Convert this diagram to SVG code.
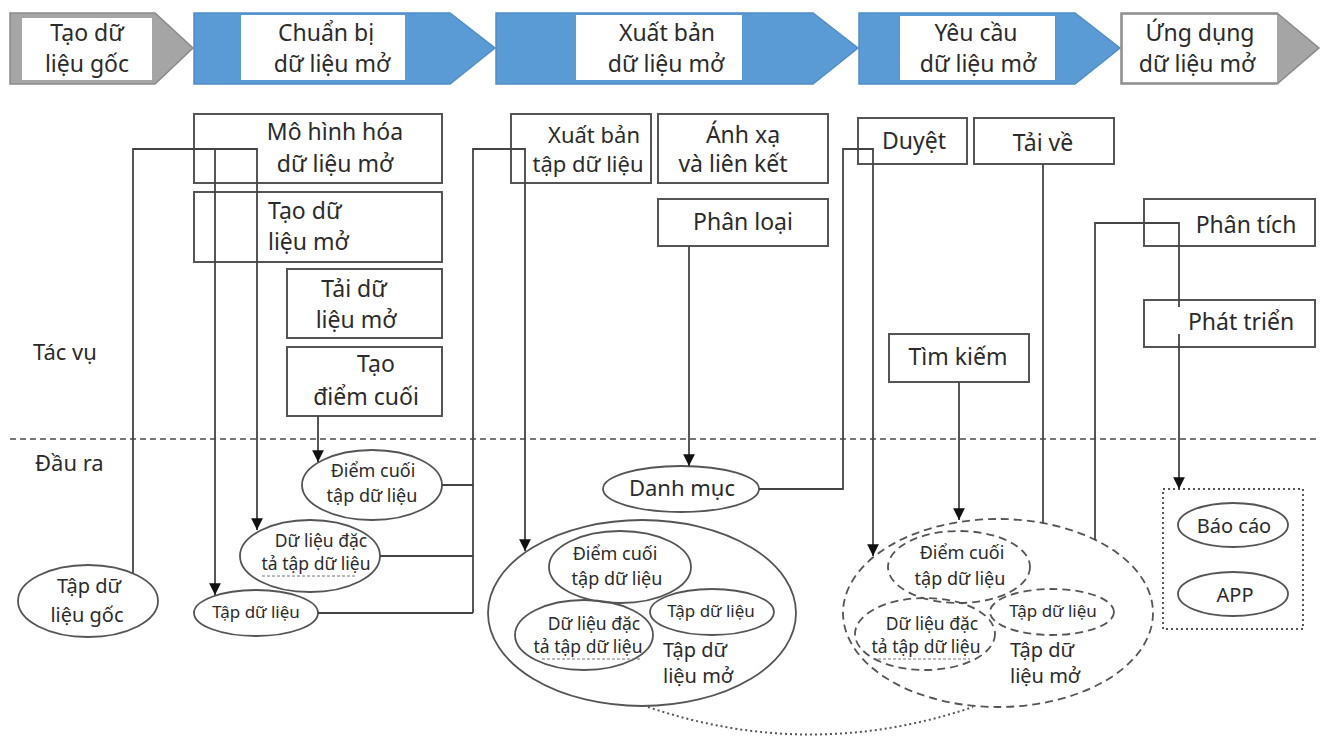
<svg xmlns="http://www.w3.org/2000/svg" width="1322" height="738" viewBox="0 0 1322 738">
<style>
text{font-family:"Noto Sans","Open Sans","DejaVu Sans",sans-serif;fill:#2b2b2b}
.h{font-size:23px;text-anchor:middle}
.b{font-size:23px;text-anchor:middle}
.s{font-size:18px;text-anchor:middle}
.box{fill:none;stroke:#555;stroke-width:2}
.ell{fill:#fff;stroke:#555;stroke-width:1.8}
.ein{fill:none;stroke:#555;stroke-width:1.8}
.dash{fill:none;stroke:#555;stroke-width:1.8;stroke-dasharray:8 5}
.gray{fill:#a5a5a5;stroke:#8a8a8a;stroke-width:1.5}
.blue{fill:#5b9bd5;stroke:#4f8ec8;stroke-width:1.5}
.wr{fill:#fff;stroke:none}
.c{fill:none;stroke:#444;stroke-width:1.8}
.ca{fill:none;stroke:#444;stroke-width:1.8;marker-end:url(#arr)}
.sq{stroke:#777;stroke-width:1;stroke-dasharray:3 2}
</style>
<defs>
<marker id="arr" viewBox="0 0 10 10" refX="10" refY="5" markerWidth="6.5" markerHeight="7" markerUnits="strokeWidth" orient="auto">
<path d="M0,0 L10,5 L0,10 z" fill="#111"/>
</marker>
</defs>
<rect width="1322" height="738" fill="#fff"/>

<g id="header">
<g id="stage1">
<polygon class="gray" points="10,13 155,13 193,48 155,84 10,84"/>
<rect class="wr" x="22" y="18" width="130" height="62"/>
<text class="h" x="87" y="41">Tạo dữ</text>
<text class="h" x="87" y="72">liệu gốc</text>
</g>
<g id="stage2">
<polygon class="blue" points="194,13 450,13 495,48 450,84 194,84"/>
<rect class="wr" x="241" y="15" width="164" height="65"/>
<text class="h" x="326" y="41">Chuẩn bị</text>
<text class="h" x="332" y="72">dữ liệu mở</text>
</g>
<g id="stage3">
<polygon class="blue" points="496,13 813,13 858,48 813,84 496,84"/>
<rect class="wr" x="576" y="15" width="166" height="65"/>
<text class="h" x="667" y="41">Xuất bản</text>
<text class="h" x="666" y="72">dữ liệu mở</text>
</g>
<g id="stage4">
<polygon class="blue" points="859,13 1075,13 1120,48 1075,84 859,84"/>
<rect class="wr" x="900" y="16" width="155" height="64"/>
<text class="h" x="976" y="41">Yêu cầu</text>
<text class="h" x="978" y="72">dữ liệu mở</text>
</g>
<g id="stage5">
<polygon class="gray" points="1121,13 1277,13 1319,48 1277,84 1121,84"/>
<rect class="wr" x="1123" y="15" width="154" height="67"/>
<text class="h" x="1200" y="41">Ứng dụng</text>
<text class="h" x="1197" y="72">dữ liệu mở</text>
</g>
</g>

<g id="labels">
<text x="33" y="360" style="font-size:22px">Tác vụ</text>
<text x="35" y="471" style="font-size:22px">Đầu ra</text>
<line x1="10" y1="439" x2="1316" y2="439" stroke="#777" stroke-width="2" stroke-dasharray="6 4"/>
</g>

<g id="task-mo-hinh-hoa"><rect class="box" x="194" y="114" width="248" height="69"/>
<text class="b" x="335" y="140">Mô hình hóa</text><text class="b" x="335" y="172">dữ liệu mở</text></g>
<g id="task-tao-du-lieu-mo"><rect class="box" x="194" y="192" width="248" height="70"/>
<text class="b" x="268" y="219" style="text-anchor:start">Tạo dữ</text><text class="b" x="268" y="250" style="text-anchor:start">liệu mở</text></g>
<g id="task-tai-du-lieu-mo"><rect class="box" x="287" y="269" width="155" height="69"/>
<text class="b" x="354" y="297">Tải dữ</text><text class="b" x="356" y="328">liệu mở</text></g>
<g id="task-tao-diem-cuoi"><rect class="box" x="287" y="347" width="155" height="69"/>
<text class="b" x="376" y="372">Tạo</text><text class="b" x="366" y="405">điểm cuối</text></g>
<g id="task-xuat-ban"><rect class="box" x="511" y="114" width="140" height="69"/>
<text class="b" x="594" y="143" style="font-size:22px">Xuất bản</text><text class="b" x="588" y="172" style="font-size:22px">tập dữ liệu</text></g>
<g id="task-anh-xa"><rect class="box" x="658" y="114" width="170" height="69"/>
<text class="b" x="743" y="143">Ánh xạ</text><text class="b" x="733" y="172">và liên kết</text></g>
<g id="task-phan-loai"><rect class="box" x="658" y="199" width="170" height="47"/>
<text class="b" x="743" y="230">Phân loại</text></g>
<g id="task-duyet"><rect class="box" x="858" y="118" width="109" height="46"/>
<text class="b" x="914" y="149">Duyệt</text></g>
<g id="task-tai-ve"><rect class="box" x="974" y="118" width="140" height="46"/>
<text class="b" x="1043" y="151">Tải về</text></g>
<g id="task-tim-kiem"><rect class="box" x="889" y="334" width="140" height="48"/>
<text class="b" x="958" y="365">Tìm kiếm</text></g>
<g id="task-phan-tich"><rect class="box" x="1144" y="199" width="171" height="47"/>
<text class="b" x="1246" y="233">Phân tích</text></g>
<g id="task-phat-trien"><rect class="box" x="1144" y="300" width="171" height="47"/>
<text class="b" x="1241" y="330">Phát triển</text></g>

<g id="out-tap-du-lieu-goc"><ellipse class="ell" cx="88" cy="601" rx="70" ry="36"/>
<text class="s" x="89" y="593" style="font-size:20px">Tập dữ</text><text class="s" x="87" y="622" style="font-size:20px">liệu gốc</text></g>
<g id="out-diem-cuoi"><ellipse class="ell" cx="372" cy="485" rx="70" ry="35"/>
<text class="s" x="373" y="477">Điểm cuối</text><text class="s" x="372" y="502">tập dữ liệu</text></g>
<g id="out-dac-ta"><ellipse class="ell" cx="310" cy="556" rx="70" ry="36"/>
<text class="s" x="321" y="547" style="font-size:17.5px">Dữ liệu đặc</text><text class="s" x="316" y="570" style="font-size:17.5px">tả tập dữ liệu</text>
<line class="sq" x1="262" y1="576" x2="357" y2="576"/></g>
<g id="out-tap-du-lieu"><ellipse class="ell" cx="256" cy="613" rx="62" ry="23"/>
<text class="s" x="256" y="618" style="font-size:17px">Tập dữ liệu</text></g>

<g id="out-danh-muc"><ellipse class="ell" cx="681" cy="489" rx="78" ry="23"/>
<text class="s" x="682" y="496" style="font-size:22px">Danh mục</text></g>

<g id="out-tap-du-lieu-mo">
<ellipse class="ell" cx="642" cy="613" rx="154" ry="93"/>
<ellipse class="ein" cx="620" cy="567" rx="71" ry="36"/>
<ellipse class="ein" cx="584" cy="635" rx="69" ry="35"/>
<ellipse class="ein" cx="712" cy="612" rx="62" ry="23"/>
<text class="s" x="615" y="560">Điểm cuối</text><text class="s" x="617" y="585">tập dữ liệu</text>
<text class="s" x="594" y="630" style="font-size:17.5px">Dữ liệu đặc</text><text class="s" x="588" y="653" style="font-size:17.5px">tả tập dữ liệu</text>
<line class="sq" x1="542" y1="659" x2="640" y2="659"/>
<text class="s" x="711" y="617" style="font-size:17px">Tập dữ liệu</text>
<text x="663" y="657" style="font-size:20px">Tập dữ</text><text x="663" y="683" style="font-size:20px">liệu mở</text>
</g>

<g id="out-tap-du-lieu-mo-yeu-cau">
<ellipse class="dash" cx="998" cy="613" rx="155" ry="94" style="fill:#fff"/>
<ellipse class="dash" cx="959" cy="567" rx="71" ry="36"/>
<ellipse class="dash" cx="925" cy="634" rx="70" ry="36"/>
<ellipse class="dash" cx="1052" cy="612" rx="62" ry="23"/>
<text class="s" x="962" y="559">Điểm cuối</text><text class="s" x="960" y="585">tập dữ liệu</text>
<text class="s" x="932" y="630" style="font-size:17.5px">Dữ liệu đặc</text><text class="s" x="926" y="653" style="font-size:17.5px">tả tập dữ liệu</text>
<line class="sq" x1="873" y1="659" x2="970" y2="659"/>
<text class="s" x="1053" y="617" style="font-size:17px">Tập dữ liệu</text>
<text x="1010" y="657" style="font-size:20px">Tập dữ</text><text x="1010" y="683" style="font-size:20px">liệu mở</text>
</g>

<g id="out-ung-dung">
<rect x="1163" y="489" width="140" height="140" fill="none" stroke="#555" stroke-width="2" stroke-dasharray="2 3"/>
<ellipse class="ell" cx="1233" cy="525" rx="55" ry="22"/>
<text class="s" x="1234" y="533" style="font-size:20px">Báo cáo</text>
<ellipse class="ell" cx="1233" cy="594" rx="55" ry="22"/>
<text class="s" x="1235" y="602" style="font-size:20px">APP</text>
</g>

<g id="connectors">
<path class="ca" d="M133,573 V149 H257 V530"/>
<path class="ca" d="M215,149 V595"/>
<path class="ca" d="M318,416 V462"/>
<path class="c" d="M442,485 H473 M380,556 H473 M318,613 H473"/>
<path class="ca" d="M473,613 V149 H525 V551"/>
<path class="ca" d="M689,246 V466"/>
<path class="ca" d="M759,489 H843 V149 H873 V556"/>
<path class="ca" d="M959,382 V520"/>
<path class="c" d="M1043,164 V523"/>
<path class="c" d="M1095,540 V223 H1179 V307"/>
<path class="ca" d="M1179,334 V489"/>
<path d="M648,707 Q810,762 973,707" fill="none" stroke="#555" stroke-width="2" stroke-dasharray="2 3"/>
</g>
</svg>
